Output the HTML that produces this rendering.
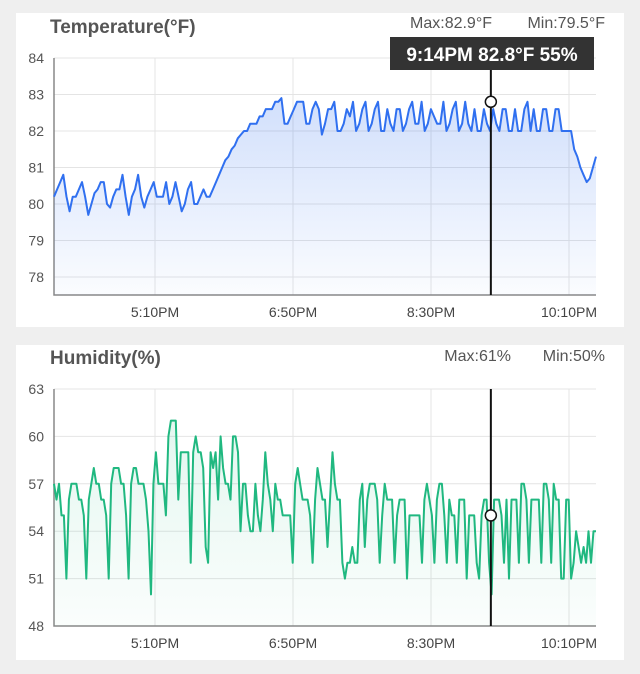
<!DOCTYPE html>
<html><head><meta charset="utf-8"><style>
html,body{margin:0;padding:0;background:#efefef;width:640px;height:674px;overflow:hidden;font-family:"Liberation Sans",sans-serif}
.card{position:absolute;left:16px;width:608px;background:#fff}
svg{position:absolute;left:0;top:0}
</style></head><body>
<div class="card" style="top:13px;height:314px"></div>
<div class="card" style="top:345px;height:315px"></div>
<svg id="s" width="640" height="674"></svg>
<script>
const tempVals=[80.2,80.4,80.6,80.8,80.2,79.8,80.2,80.2,80.4,80.6,80.2,79.7,80.0,80.3,80.4,80.6,80.6,80.0,79.9,80.2,80.4,80.4,80.8,80.2,79.7,80.2,80.4,80.8,80.2,79.9,80.2,80.4,80.6,80.2,80.2,80.2,80.6,80.0,80.2,80.6,80.2,79.8,80.0,80.4,80.6,80.0,80.0,80.2,80.4,80.2,80.2,80.4,80.6,80.8,81.0,81.2,81.3,81.5,81.6,81.8,81.9,82.0,82.0,82.2,82.2,82.2,82.4,82.4,82.6,82.6,82.6,82.8,82.8,82.9,82.2,82.2,82.4,82.6,82.8,82.8,82.8,82.2,82.2,82.6,82.8,82.6,81.9,82.2,82.6,82.6,82.8,82.0,82.0,82.2,82.6,82.4,82.8,82.0,82.2,82.6,82.8,82.0,82.2,82.6,82.8,82.0,82.0,82.6,82.2,82.0,82.6,82.6,82.0,82.2,82.6,82.8,82.2,82.2,82.8,82.0,82.2,82.6,82.4,82.2,82.2,82.8,82.0,82.2,82.6,82.8,82.0,82.2,82.8,82.2,82.0,82.6,82.0,82.0,82.6,82.2,82.0,82.6,82.2,82.0,82.6,82.6,82.0,82.0,82.6,82.0,82.0,82.6,82.8,82.0,82.6,82.0,82.0,82.6,82.6,82.0,82.0,82.6,82.6,82.0,82.0,82.0,82.0,81.5,81.3,81.0,80.8,80.6,80.7,81.0,81.3];
const humVals=[57,56,57,55,55,51,56,57,57,57,56,56,55,51,56,57,58,57,57,56,56,55,51,57,58,58,58,57,57,55,51,57,58,58,57,57,57,56,54,50,57,59,57,57,57,55,60,61,61,61,56,59,59,59,59,52,59,60,59,59,58,53,52,59,58,59,56,60,58,57,57,56,60,60,59,54,57,57,55,54,54,57,55,54,56,59,57,56,54,57,56,56,55,55,55,55,52,57,58,57,56,56,56,55,52,56,58,57,56,56,53,56,59,57,56,56,52,51,52,52,53,52,52,56,57,53,56,57,57,57,56,52,55,57,56,56,56,52,55,56,56,56,51,55,55,55,55,55,52,56,57,56,55,52,56,57,57,55,52,56,55,55,52,56,56,56,51,55,55,55,52,51,55,56,56,52,50,56,56,56,55,52,56,51,56,56,56,52,57,57,56,52,56,56,56,56,52,57,57,56,52,57,56,56,51,51,56,56,51,52,54,53,52,53,52,54,52,54,54];
const timeTicks=["5:10PM","6:50PM","8:30PM","10:10PM"];
const tempTicks=[78,79,80,81,82,83,84];
const humTicks=[48,51,54,57,60,63];
const tempStats=["Max:82.9°F","Min:79.5°F"];
const humStats=["Max:61%","Min:50%"];
const tooltip="9:14PM 82.8°F 55%";
const cursorTemp=[82.8];
const cursorHum=[55];
const cursorFrac=0.806;
const S=document.getElementById('s');const NS='http://www.w3.org/2000/svg';
function mk(t,a,p){const e=document.createElementNS(NS,t);for(const k in a)e.setAttribute(k,a[k]);(p||S).appendChild(e);return e;}
const X0=54,X1=596;
const tx=i=>155+i*138;
function chart(cfg){
 const g=mk('g',{});
 
 
 const y=v=>cfg.yTop+(cfg.vTop-v)*cfg.ppu;
 const yb=cfg.yBot;
 cfg.ticks.forEach(v=>{
  if(v>cfg.ticks[0]||cfg.name==='temperature'){const l=mk('line',{x1:X0,x2:X1,y1:y(v),y2:y(v),stroke:'#e4e4e4','stroke-width':1},g);
  }
  const t=mk('text',{x:44,y:y(v)+5,'text-anchor':'end','font-size':14,fill:'#555'},g);t.textContent=v;
  
 });
 timeTicks.forEach((s,i)=>{
  const l=mk('line',{x1:tx(i),x2:tx(i),y1:cfg.yTop,y2:yb,stroke:'#e4e4e4'},g);
  
  const t=mk('text',{x:tx(i),y:yb+22,'text-anchor':'middle','font-size':14,fill:'#444'},g);t.textContent=s;
  
 });
 const ax=mk('path',{d:`M${X0} ${cfg.yTop}V${yb}H${X1}`,stroke:'#888','stroke-width':1.5,fill:'none'},g);
 
 const n=cfg.vals.length;const px=i=>X0+i*(X1-X0)/(n-1);
 let d=cfg.vals.map((v,i)=>(i?'L':'M')+px(i).toFixed(1)+' '+y(v).toFixed(1)).join('');
 const gr=mk('linearGradient',{id:cfg.name+'g',x1:0,y1:0,x2:0,y2:1},mk('defs',{},g));
 mk('stop',{offset:0,'stop-color':cfg.color,'stop-opacity':cfg.op},gr);mk('stop',{offset:1,'stop-color':cfg.color,'stop-opacity':0.02},gr);
 const a=mk('path',{d:d+`L${X1} ${yb}L${X0} ${yb}Z`,fill:`url(#${cfg.name}g)`},g);
 
 const ln=mk('path',{d:d,stroke:cfg.color,'stroke-width':2,fill:'none','stroke-linejoin':'round'},g);
 
 const cx=X0+cursorFrac*(X1-X0);
 const cl=mk('line',{x1:cx,x2:cx,y1:cfg.cTop,y2:yb,stroke:'#111','stroke-width':2},g);
 
 const c=mk('circle',{cx:cx,cy:y(cfg.cur[0]),r:5.5,fill:'#fff',stroke:'#111','stroke-width':1.5},g);
 
 const ti=mk('text',{x:50,y:cfg.titleY,'font-size':19,'font-weight':'bold',fill:'#555'},g);ti.textContent=cfg.title;
 
 const m1=mk('text',{x:cfg.statX,y:cfg.statY,'text-anchor':'end','font-size':16,fill:'#555'},g);m1.textContent=cfg.stats[0];
 
 const m2=mk('text',{x:605,y:cfg.statY,'text-anchor':'end','font-size':16,fill:'#555'},g);m2.textContent=cfg.stats[1];
 
}
chart({name:'temperature',vals:tempVals,ticks:tempTicks,vTop:84,yTop:58,ppu:36.5,yBot:295,color:'#3070f0',op:0.22,cTop:70,title:'Temperature(°F)',titleY:33,stats:tempStats,statX:492,statY:28,cur:cursorTemp});
chart({name:'humidity',vals:humVals,ticks:humTicks,vTop:63,yTop:389,ppu:15.8,yBot:626,color:'#20b880',op:0.12,cTop:389,title:'Humidity(%)',titleY:364,stats:humStats,statX:511,statY:361,cur:cursorHum});
const tb=mk('rect',{x:390,y:37,width:204,height:33,fill:'#333'});

const tt=mk('text',{x:492,y:61,'text-anchor':'middle','font-size':19,'font-weight':'bold',fill:'#fff'});tt.textContent=tooltip;

</script>
</body></html>
